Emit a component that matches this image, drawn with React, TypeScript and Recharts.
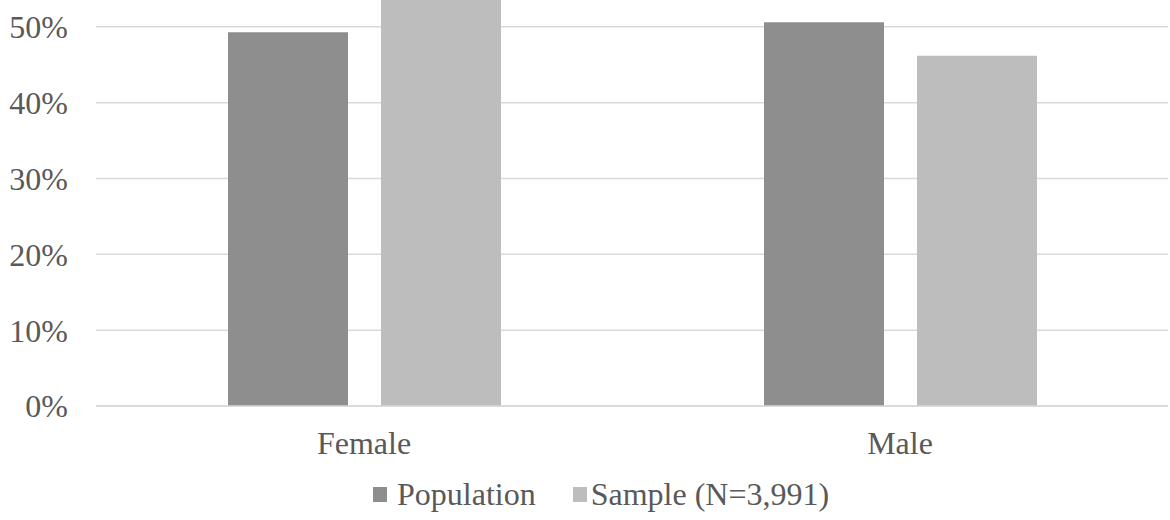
import React from "react";
import { BarChart, Bar, XAxis, YAxis, CartesianGrid, Legend } from "recharts";

const categories = ["Female", "Male"];
const populationValues = [49.3, 50.6];
const sampleValues = [53.8, 46.2];
const yTicks = [0, 10, 20, 30, 40, 50];
const seriesNames = ["Population", "Sample (N=3,991)"];
const seriesColors = ["#8e8e8e", "#bdbdbd"];

const data = categories.map((c, i) => ({
  name: c,
  population: populationValues[i],
  sample: sampleValues[i],
}));

const FONT = "Liberation Serif, Tinos, Times New Roman, DejaVu Serif, serif";
const TEXT = "#595959";
const FS = 32;

const LegendContent = () => (
  <div style={{ display: "flex", alignItems: "flex-start", fontFamily: FONT, fontSize: FS, lineHeight: "31px", color: TEXT, whiteSpace: "nowrap" }}>
    <span style={{ display: "inline-block", width: 14, height: 15, background: seriesColors[0], marginTop: 8, marginRight: 10 }} />
    <span>{seriesNames[0]}</span>
    <span style={{ display: "inline-block", width: 14, height: 15, background: seriesColors[1], marginTop: 8, marginLeft: 37, marginRight: 4 }} />
    <span>{seriesNames[1]}</span>
  </div>
);

export default function App() {
  return (
    <div style={{ position: "absolute", left: 0, top: -60, width: 1170, height: 580, background: "#fff" }}>
      <BarChart
        width={1170}
        height={580}
        data={data}
        margin={{ top: 11, right: 2, bottom: 0, left: 0 }}
        barGap={33}
      >
        <CartesianGrid vertical={false} stroke="#d9d9d9" strokeWidth={1.5} />
        <XAxis
          dataKey="name"
          axisLine={{ stroke: "#d9d9d9", strokeWidth: 1.5 }}
          tickLine={false}
          tickSize={0}
          tickMargin={25}
          tick={{ fill: TEXT, fontSize: FS, fontFamily: FONT }}
          height={114}
        />
        <YAxis
          domain={[0, 60]}
          ticks={yTicks}
          tickFormatter={(v: number) => `${v}%`}
          axisLine={false}
          tickLine={false}
          tickSize={0}
          tickMargin={28}
          width={96}
          tick={{ fill: TEXT, fontSize: FS, fontFamily: FONT }}
          interval={0}
        />
        <Legend
          verticalAlign="middle"
          align="center"
          layout="horizontal"
          content={<LegendContent />}
          wrapperStyle={{ position: "absolute", left: 373, top: 539, width: "auto" }}
        />
        <Bar dataKey="population" name={seriesNames[0]} fill={seriesColors[0]} barSize={120} isAnimationActive={false} />
        <Bar dataKey="sample" name={seriesNames[1]} fill={seriesColors[1]} barSize={120} isAnimationActive={false} />
      </BarChart>
    </div>
  );
}
